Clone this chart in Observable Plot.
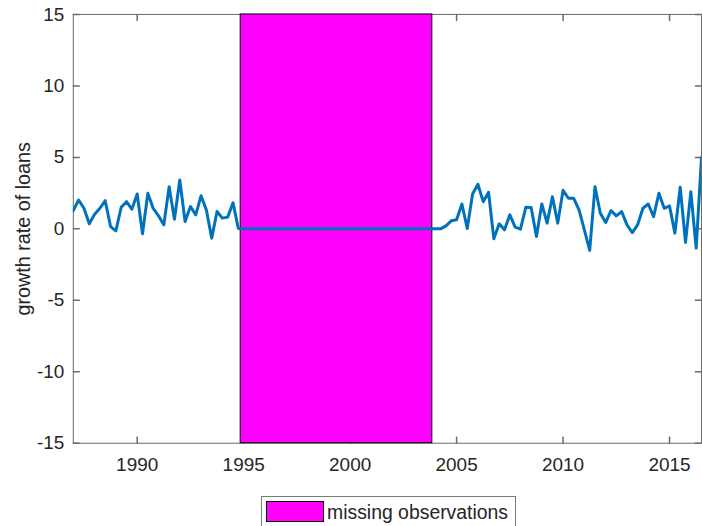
<!DOCTYPE html>
<html>
<head>
<meta charset="utf-8">
<script src="https://cdn.jsdelivr.net/npm/d3@7"></script>
<script src="https://cdn.jsdelivr.net/npm/@observablehq/plot@0.6"></script>
<style>
  html, body { margin: 0; padding: 0; overflow: hidden; background: #fff; width: 702px; height: 526px; }
  #chart { position: absolute; left: 0; top: 0; }
  #legend {
    position: absolute; left: 261px; top: 496px; width: 255px; height: 36px;
    border: 1px solid #7a7a7a; background: #fff; box-sizing: border-box;
    font-family: "Liberation Sans", Arial, Helvetica, sans-serif; font-size: 19.4px; color: #262626;
  }
  #legend .sw { position: absolute; left: 4px; top: 4px; width: 58px; height: 21px; background: #ff00ff; border: 1px solid #000; box-sizing: border-box; }
  #legend .lt { position: absolute; left: 65px; top: 4px; white-space: nowrap; }
</style>
</head>
<body>
<div id="chart"></div>
<div id="legend"><div class="sw"></div><span class="lt"></span></div>
<script>
// ---- data (quarterly, starting 1987Q1) ----
const startYear = 1987;
const loanGrowth = [
  // 1987.00 – 1994.75
  1.28, 2.02, 1.44, 0.35, 1.02, 1.44, 1.97, 0.16,
  -0.14, 1.51, 1.90, 1.37, 2.44, -0.35, 2.49, 1.44,
  0.91, 0.28, 2.95, 0.67, 3.42, 0.51, 1.56, 0.98,
  2.32, 1.32, -0.65, 1.21, 0.75, 0.82, 1.83, 0.02,
  // 1995.00 – 2004.25 (missing, plotted as zero)
  0, 0, 0, 0, 0, 0, 0, 0, 0, 0,
  0, 0, 0, 0, 0, 0, 0, 0, 0, 0,
  0, 0, 0, 0, 0, 0, 0, 0, 0, 0,
  0, 0, 0, 0, 0, 0, 0, 0,
  // 2004.50 – 2016.50
  0.21, 0.56, 0.63, 1.74, 0.02, 2.44, 3.12, 1.90,
  2.56, -0.70, 0.35, -0.07, 0.98, 0.12, -0.02, 1.51,
  1.49, -0.53, 1.74, 0.40, 2.25, 0.40, 2.70, 2.14,
  2.14, 1.32, -0.07, -1.51, 2.95, 1.09, 0.44, 1.28,
  0.91, 1.21, 0.28, -0.26, 0.28, 1.44, 1.74, 0.86,
  2.49, 1.44, 1.60, -0.30, 2.91, -0.95, 2.60, -1.35,
  5.0
];
const missingPeriods = [{ start: 1994.86, end: 2003.86 }];
const xTicks = [1990, 1995, 2000, 2005, 2010, 2015];
const yTicks = [-15, -10, -5, 0, 5, 10, 15];
const xDomain = [1987, 2016.5];
const yDomain = [-15, 15];
const yLabel = "growth rate of loans";
const legendLabel = "missing observations";

// ---- build ----
const series = loanGrowth.map((v, i) => ({ t: startYear + i / 4, v }));
const tickShape = { draw(ctx, l) { ctx.moveTo(0, 0); ctx.lineTo(0, -l); } };
const axisColor = "#6a6a6a";
const textColor = "#262626";

const chart = Plot.plot({
  width: 704,
  height: 490,
  marginLeft: 73,
  marginRight: 1,
  marginTop: 14,
  marginBottom: 46,
  style: {
    fontFamily: "'Liberation Sans', Arial, Helvetica, sans-serif",
    fontSize: "19px",
    color: textColor,
    background: "transparent",
    overflow: "visible"
  },
  x: { domain: xDomain, ticks: xTicks },
  y: { domain: yDomain, ticks: yTicks },
  marks: [
    Plot.frame({ stroke: axisColor, strokeWidth: 1 }),
    // inward ticks on all four sides
    Plot.vector(yTicks, { x: () => xDomain[0], y: d => d, length: 6, rotate: 90, anchor: "start", shape: tickShape, stroke: axisColor }),
    Plot.vector(yTicks, { x: () => xDomain[1], y: d => d, length: 6, rotate: -90, anchor: "start", shape: tickShape, stroke: axisColor }),
    Plot.vector(xTicks, { x: d => d, y: () => yDomain[0], length: 6, rotate: 0, anchor: "start", shape: tickShape, stroke: axisColor }),
    Plot.vector(xTicks, { x: d => d, y: () => yDomain[1], length: 6, rotate: 180, anchor: "start", shape: tickShape, stroke: axisColor }),
    Plot.rect(missingPeriods, { x1: "start", x2: "end", y1: () => yDomain[0], y2: () => yDomain[1], fill: "#ff00ff", stroke: "#000", strokeWidth: 1 }),
    Plot.line(series, { x: "t", y: "v", stroke: "#0072BD", strokeWidth: 3, clip: true }),
    Plot.axisX({ ticks: xTicks, tickSize: 0, tickPadding: 14, tickFormat: d => String(d), label: null, fill: textColor }),
    Plot.axisY({ ticks: yTicks, tickSize: 0, tickPadding: 9, tickFormat: d => String(d), label: null, fill: textColor }),
    Plot.text([yLabel], { frameAnchor: "left", textAnchor: "middle", rotate: -90, dx: -50, text: d => d, fontSize: 19.8, fill: textColor })
  ]
});
document.getElementById("chart").appendChild(chart);
document.querySelector("#legend .lt").textContent = legendLabel;
</script>
</body>
</html>
